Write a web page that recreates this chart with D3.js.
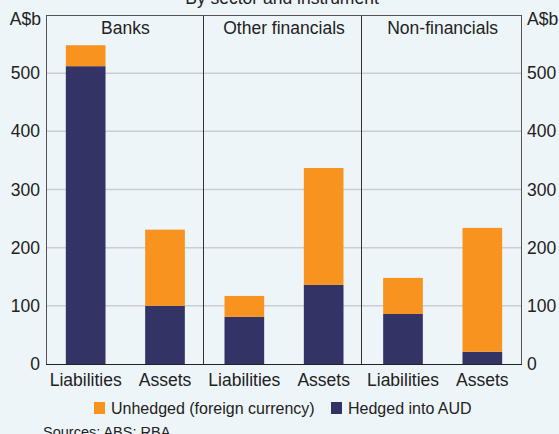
<!DOCTYPE html>
<html lang="en">
<head>
<meta charset="UTF-8">
<title>Foreign currency exposure</title>
<script src="https://d3js.org/d3.v7.min.js"></script>
<style>
  body { margin: 0; background: #eef5f8; }
  svg { font-family: Arial, "Liberation Sans", sans-serif; display: block; }
</style>
</head>
<body>
<div id="chart"></div>
<script>
// data (A$b)
var sectors = ["Banks", "Other financials", "Non-financials"];
var instruments = ["Liabilities", "Assets"];
var hedged = [512, 100, 81, 136, 86, 21];
var unhedged = [36, 131, 36, 201, 62, 213];
var yTicks = [0, 100, 200, 300, 400, 500];
var seriesNames = ["Unhedged (foreign currency)", "Hedged into AUD"];

var width = 559, height = 434;
var margin = {top: 15, right: 37, bottom: 70, left: 46};
var colours = {unhedged: "#f7931e", hedged: "#333366"};
var fs = 17.5;

var svg = d3.select("#chart").append("svg")
    .attr("width", width)
    .attr("height", height);

svg.append("rect").attr("width", width).attr("height", height).attr("fill", "#eef5f8");

var x0 = margin.left, x1 = width - margin.right;
var yBottom = height - margin.bottom;

// one band per bar, sector/instrument pairs
var bars = [];
sectors.forEach(function(s, i) {
    instruments.forEach(function(ins, j) {
        var k = i * 2 + j;
        bars.push({key: s + "|" + ins, sector: s, instrument: ins, hedged: hedged[k], unhedged: unhedged[k]});
    });
});

var x = d3.scaleBand()
    .domain(bars.map(function(d) { return d.key; }))
    .range([x0, x1])
    .paddingInner(0.5)
    .paddingOuter(0.25);

var xSector = d3.scaleBand().domain(sectors).range([x0, x1]);

var y = d3.scaleLinear().domain([0, 600]).range([yBottom, margin.top]);

// gridlines
svg.append("g")
    .selectAll("line")
    .data(yTicks.filter(function(d) { return d > 0; }))
    .join("line")
    .attr("x1", x0).attr("x2", x1)
    .attr("y1", function(d) { return y(d); })
    .attr("y2", function(d) { return y(d); })
    .attr("stroke", "#c9ced3")
    .attr("stroke-width", 1.5);

// stacked bars
var stack = d3.stack().keys(["hedged", "unhedged"]);
svg.append("g")
    .selectAll("g")
    .data(stack(bars))
    .join("g")
    .attr("fill", function(d) { return colours[d.key]; })
    .selectAll("rect")
    .data(function(d) { return d; })
    .join("rect")
    .attr("x", function(d) { return x(d.data.key); })
    .attr("width", x.bandwidth())
    .attr("y", function(d) { return y(d[1]); })
    .attr("height", function(d) { return y(d[0]) - y(d[1]); });

// panel dividers
svg.append("g")
    .selectAll("line")
    .data(sectors.slice(1))
    .join("line")
    .attr("x1", function(d) { return Math.round(xSector(d)) - 1.5; })
    .attr("x2", function(d) { return Math.round(xSector(d)) - 1.5; })
    .attr("y1", margin.top).attr("y2", yBottom)
    .attr("stroke", "#333")
    .attr("stroke-width", 1);

// frame
svg.append("rect")
    .attr("x", x0 + 0.5).attr("y", margin.top + 0.5)
    .attr("width", x1 - x0 - 1).attr("height", yBottom - margin.top)
    .attr("fill", "none")
    .attr("stroke", "#555")
    .attr("stroke-width", 1);
svg.append("line")
    .attr("x1", x0).attr("x2", x1)
    .attr("y1", yBottom + 0.5).attr("y2", yBottom + 0.5)
    .attr("stroke", "#222");

// panel titles
svg.append("g")
    .selectAll("text")
    .data(sectors)
    .join("text")
    .attr("x", function(d) { return xSector(d) + xSector.bandwidth() / 2; })
    .attr("y", 34)
    .attr("text-anchor", "middle")
    .attr("font-size", fs)
    .attr("fill", "#222")
    .text(function(d) { return d; });

// y axes both sides
var leftAxis = svg.append("g")
    .attr("transform", "translate(" + x0 + ",0)")
    .call(d3.axisLeft(y).tickValues(yTicks).tickSize(0).tickPadding(6));
var rightAxis = svg.append("g")
    .attr("transform", "translate(" + x1 + ",0)")
    .call(d3.axisRight(y).tickValues(yTicks).tickSize(0).tickPadding(5));
[leftAxis, rightAxis].forEach(function(a) {
    a.select(".domain").remove();
    a.selectAll("text").attr("font-size", fs).attr("fill", "#222").attr("font-family", null);
});

svg.append("text").attr("x", x0 - 5).attr("y", 25).attr("text-anchor", "end")
    .attr("font-size", fs).attr("fill", "#222").text("A$b");
svg.append("text").attr("x", x1 + 5).attr("y", 25).attr("text-anchor", "start")
    .attr("font-size", fs).attr("fill", "#222").text("A$b");

// x labels
svg.append("g")
    .attr("transform", "translate(0," + yBottom + ")")
    .call(d3.axisBottom(x).tickSize(0).tickPadding(10)
        .tickFormat(function(d) { return d.split("|")[1]; }))
    .call(function(g) { g.select(".domain").remove(); })
    .selectAll("text")
    .attr("font-size", fs).attr("fill", "#222").attr("font-family", null);

// chart subtitle, clipped at the top like the original
svg.append("text")
    .attr("x", 282).attr("y", 4)
    .attr("text-anchor", "middle")
    .attr("font-size", fs).attr("fill", "#222")
    .text("By sector and instrument");

// legend
var legend = svg.append("g").attr("font-size", 16).attr("fill", "#222");
var legendItems = [
    {name: seriesNames[0], colour: colours.unhedged, x: 94},
    {name: seriesNames[1], colour: colours.hedged, x: 331}
];
legendItems.forEach(function(d) {
    legend.append("rect").attr("x", d.x).attr("y", 402).attr("width", 11).attr("height", 12).attr("fill", d.colour);
    legend.append("text").attr("x", d.x + 17).attr("y", 414).text(d.name);
});

svg.append("text").attr("x", 43).attr("y", 437)
    .attr("font-size", 14.5).attr("fill", "#222")
    .text("Sources: ABS; RBA");
</script>
</body>
</html>
